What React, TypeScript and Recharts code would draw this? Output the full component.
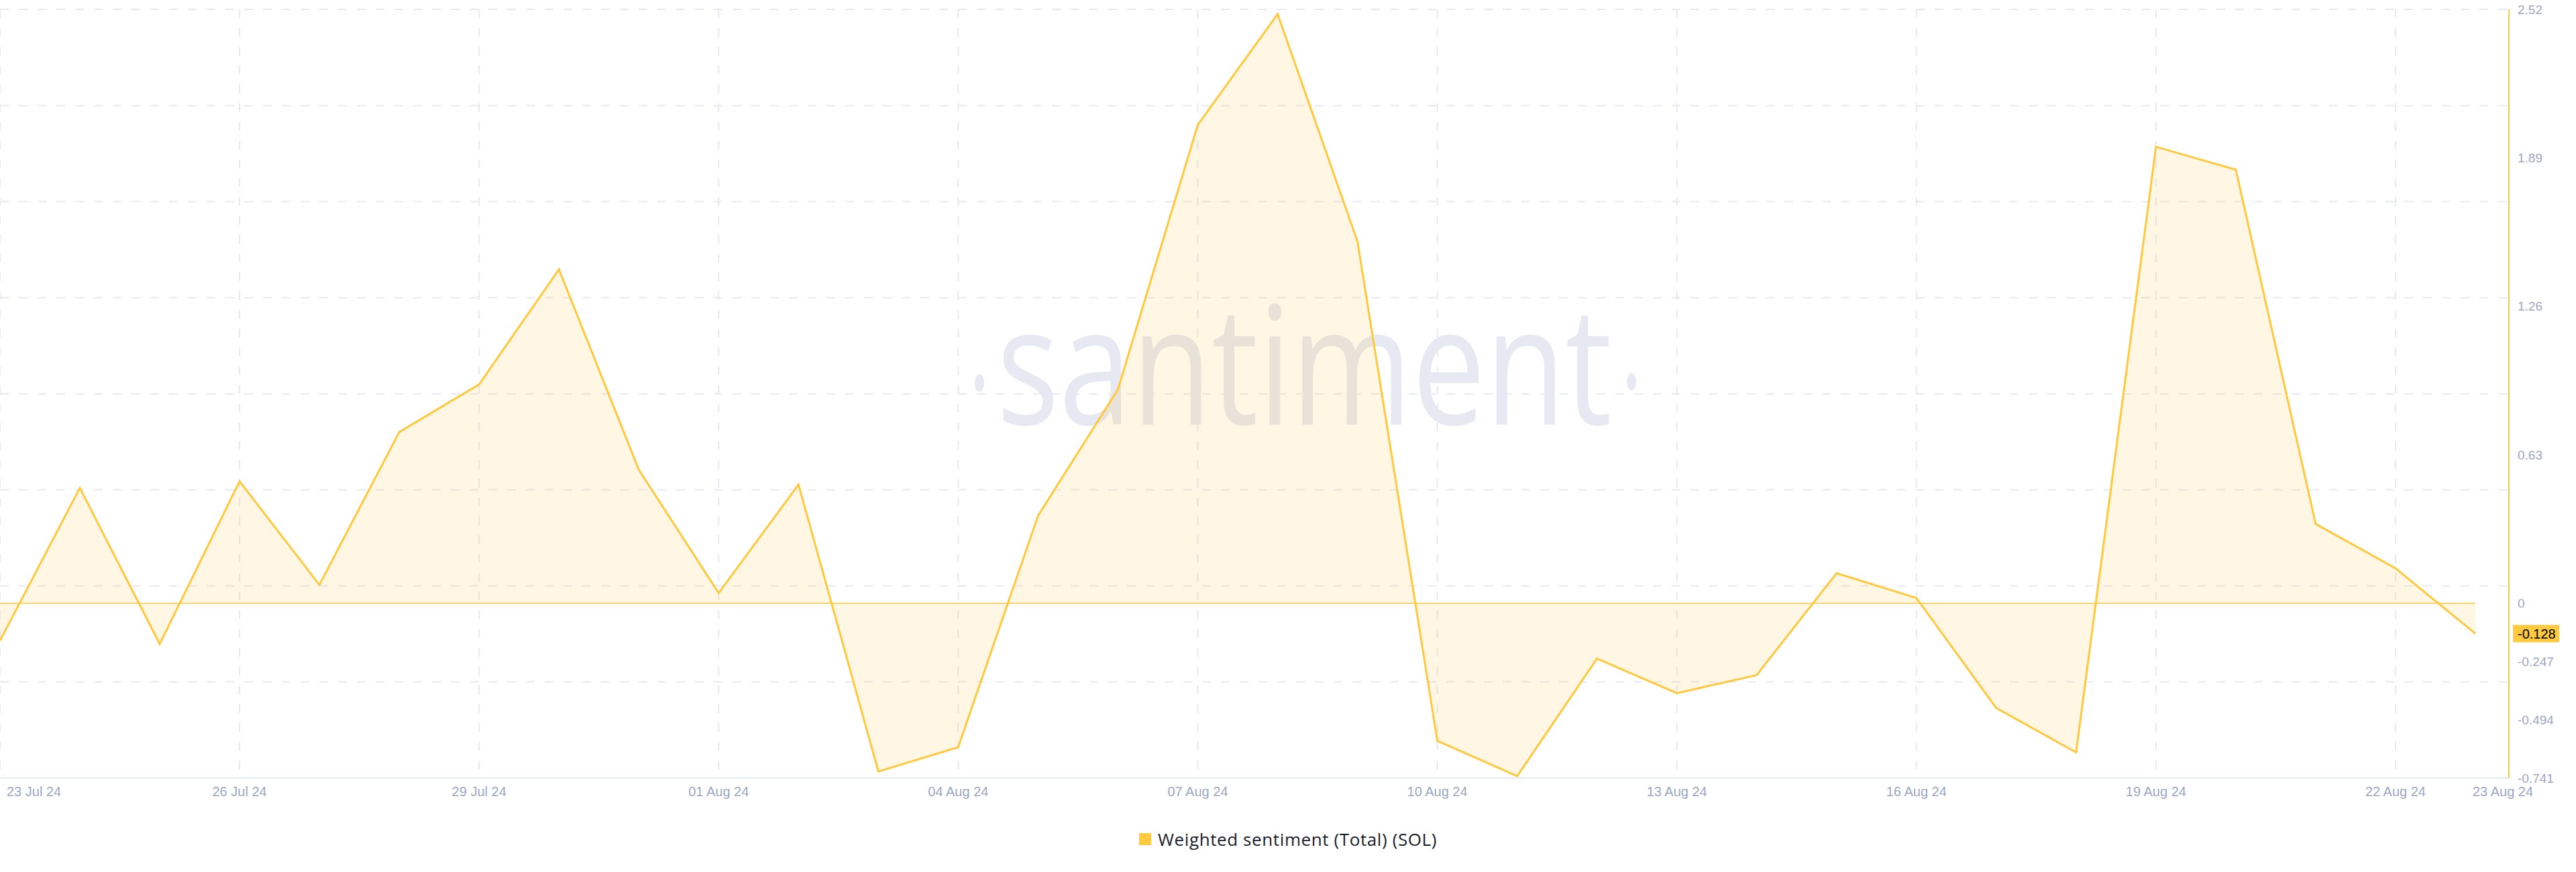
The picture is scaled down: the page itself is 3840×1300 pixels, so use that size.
import React from "react";
import {
  AreaChart,
  Area,
  XAxis,
  YAxis,
  CartesianGrid,
  ReferenceLine,
  Legend,
} from "recharts";

const DATES = [
  "23 Jul 24", "24 Jul 24", "25 Jul 24", "26 Jul 24", "27 Jul 24", "28 Jul 24",
  "29 Jul 24", "30 Jul 24", "31 Jul 24", "01 Aug 24", "02 Aug 24", "03 Aug 24",
  "04 Aug 24", "05 Aug 24", "06 Aug 24", "07 Aug 24", "08 Aug 24", "09 Aug 24",
  "10 Aug 24", "11 Aug 24", "12 Aug 24", "13 Aug 24", "14 Aug 24", "15 Aug 24",
  "16 Aug 24", "17 Aug 24", "18 Aug 24", "19 Aug 24", "20 Aug 24", "21 Aug 24",
  "22 Aug 24", "23 Aug 24",
];

const SENTIMENT = [
  -0.158, 0.49, -0.172, 0.518, 0.079, 0.727,
  0.929, 1.417, 0.567, 0.044, 0.504, -0.713,
  -0.61, 0.372, 0.908, 2.03, 2.5, 1.536,
  -0.583, -0.733, -0.234, -0.381, -0.304, 0.128,
  0.023, -0.444, -0.632, 1.937, 1.84, 0.337,
  0.149, -0.128,
];

const X_TICKS = [
  "23 Jul 24", "26 Jul 24", "29 Jul 24", "01 Aug 24", "04 Aug 24", "07 Aug 24",
  "10 Aug 24", "13 Aug 24", "16 Aug 24", "19 Aug 24", "22 Aug 24", "23 Aug 24",
];
const X_GRID_TICKS = X_TICKS.slice(0, -1);

const Y_TICKS = [2.52, 1.89, 1.26, 0.63, 0, -0.247, -0.494, -0.741];
const Y_GRID_TICKS = [-0.741, -0.333, 0.074, 0.482, 0.889, 1.297, 1.705, 2.112, 2.52];
const Y_DOMAIN = [-0.741, 2.52];

const SERIES_NAME = "Weighted sentiment (Total) (SOL)";

const ORANGE = "#ffc83d";
const AXIS_TEXT = "#9ca7c2";
const GRID = "#e6e9f2";
const TICK_FONT = "'Liberation Sans', Arial, sans-serif";

const data = DATES.map((d, i) => ({ date: d, value: SENTIMENT[i] }));
const last = SENTIMENT[SENTIMENT.length - 1];

function XTick(props: any) {
  const { x, y, payload } = props;
  const v = payload.value;
  const first = v === DATES[0];
  const end = v === DATES[DATES.length - 1];
  return (
    <text
      x={first ? x + 10 : end ? x - 4 : x}
      y={y + 27}
      textAnchor={first || end ? "start" : "middle"}
      fill={AXIS_TEXT}
      fontSize={20}
      fontFamily={TICK_FONT}
    >
      {v}
    </text>
  );
}

function YTick(props: any) {
  const { x, y, payload } = props;
  return (
    <text
      x={x + 13}
      y={y}
      dy="0.35em"
      textAnchor="start"
      fill={AXIS_TEXT}
      fontSize={19}
      fontFamily={TICK_FONT}
    >
      {String(payload.value)}
    </text>
  );
}

function LastBadge(props: any) {
  const vb = props.viewBox || {};
  const x = vb.x + vb.width + 6;
  const y = vb.y;
  return (
    <g>
      <rect x={x} y={y - 13} width={69} height={26} fill="#ffc940" />
      <text
        x={x + 7}
        y={y}
        dy="0.35em"
        fill="#000"
        fontSize={20}
        fontFamily={TICK_FONT}
      >
        {String(last)}
      </text>
    </g>
  );
}

function LegendBox() {
  return (
    <div
      style={{
        height: 80,
        display: "flex",
        justifyContent: "center",
        alignItems: "flex-start",
        paddingTop: 16,
        boxSizing: "border-box",
      }}
    >
      <span
        style={{
          display: "inline-block",
          width: 18,
          height: 18,
          background: "#ffc940",
          marginTop: 6,
          marginRight: 10,
        }}
      />
      <span
        style={{
          fontFamily: "'Open Sans', sans-serif",
          fontSize: 26,
          letterSpacing: 0.6,
          color: "#1b1d2c",
          lineHeight: "30px",
        }}
      >
        {SERIES_NAME}
      </span>
    </div>
  );
}

export default function App() {
  return (
    <div style={{ position: "relative", width: 3840, height: 1300, background: "#fff" }}>
      <style>{"body{margin:0}"}</style>
      {/* watermark behind the chart */}
      <svg
        width={3840}
        height={1300}
        style={{ position: "absolute", left: 0, top: 0 }}
      >
        <ellipse cx={1460} cy={571} rx={7} ry={13} fill="#e6e8f2" />
        <text
          x={1486}
          y={633}
          fontFamily="'Open Sans', sans-serif"
          fontSize={245}
          textLength={917}
          lengthAdjust="spacingAndGlyphs"
          fill="#e6e8f2"
        >
          santiment
        </text>
        <ellipse cx={2432} cy={569} rx={7} ry={13} fill="#e6e8f2" />
      </svg>
      <div style={{ position: "absolute", left: 0, top: 0 }}>
        <AreaChart
          width={3840}
          height={1300}
          data={data}
          margin={{ top: 14, right: 0, bottom: 0, left: 0 }}
        >
          <XAxis
            xAxisId="grid"
            dataKey="date"
            ticks={X_GRID_TICKS}
            interval={0}
            padding={{ left: 0, right: 50 }}
            hide
          />
          <YAxis
            yAxisId="grid"
            type="number"
            domain={Y_DOMAIN}
            ticks={Y_GRID_TICKS}
            allowDataOverflow
            hide
          />
          <CartesianGrid
            xAxisId="grid"
            yAxisId="grid"
            stroke={GRID}
            strokeWidth={2}
            strokeDasharray="13 15"
          />
          <XAxis
            dataKey="date"
            ticks={X_TICKS}
            interval={0}
            padding={{ left: 0, right: 50 }}
            height={60}
            tickSize={0}
            tickMargin={0}
            tickLine={false}
            axisLine={{ stroke: GRID, strokeWidth: 2 }}
            tick={<XTick />}
          />
          <YAxis
            yAxisId="val"
            orientation="right"
            type="number"
            domain={Y_DOMAIN}
            ticks={Y_TICKS}
            allowDataOverflow
            width={100}
            tickSize={0}
            tickMargin={0}
            tickLine={false}
            axisLine={{ stroke: ORANGE, strokeWidth: 2 }}
            tick={<YTick />}
          />
          <Area
            yAxisId="val"
            type="linear"
            dataKey="value"
            name={SERIES_NAME}
            stroke={ORANGE}
            strokeWidth={3}
            fill="#ffc147"
            fillOpacity={0.145}
            dot={false}
            activeDot={false}
            isAnimationActive={false}
          />
          <ReferenceLine
            yAxisId="val"
            segment={[
              { x: DATES[0], y: 0 },
              { x: DATES[DATES.length - 1], y: 0 },
            ]}
            stroke={ORANGE}
            strokeWidth={1.5}
          />
          <ReferenceLine
            yAxisId="val"
            y={last}
            stroke="none"
            label={(p: any) => <LastBadge {...p} />}
          />
          <Legend
            verticalAlign="bottom"
            height={80}
            content={() => <LegendBox />}
          />
        </AreaChart>
      </div>
    </div>
  );
}
